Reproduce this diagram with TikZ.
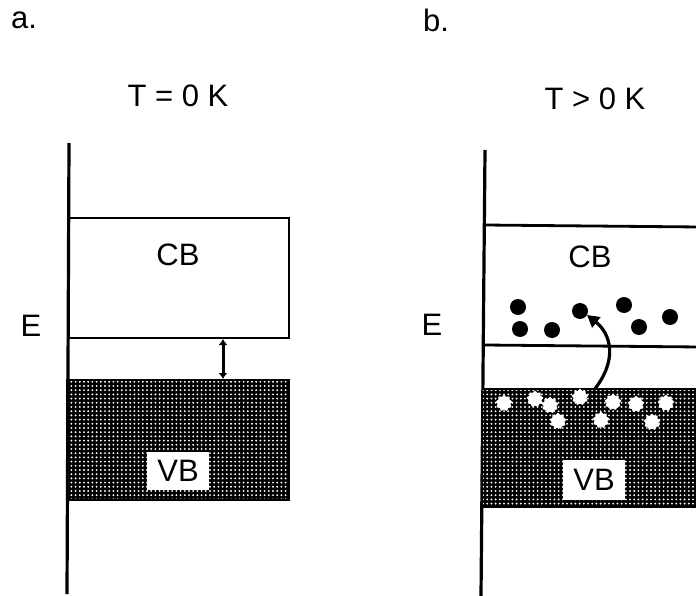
\documentclass[tikz,border=0pt]{standalone}
\usepackage{fontspec}
\setmainfont{Liberation Sans}
\usetikzlibrary{patterns.meta,shapes.geometric,arrows.meta}
\begin{document}
\begin{tikzpicture}[x=1pt,y=-1pt,
  lbl/.style={font=\fontsize{31}{36}\selectfont, inner sep=0pt},
  axis/.style={line width=3.2pt},
  bandline/.style={line width=2.8pt},
  vbfill/.style={fill=black, postaction={pattern={Dots[distance=4.2pt, radius=1.05pt]}, pattern color=white}},
  vblabel/.style={fill=white, inner sep=0pt, minimum width=62pt, minimum height=38pt, font=\fontsize{31}{36}\selectfont},
  electron/.style={circle, fill=black, inner sep=0pt, minimum size=16pt},
  hole/.style={star, star points=9, star point ratio=1.3, fill=white, inner sep=0pt, minimum size=17pt}
]
\path[use as bounding box] (0,0) rectangle (696,596);
\clip (0,0) rectangle (696,596);

% ---------- panel a ----------
\node[lbl] (la) at (24,20) {a.};
\node[lbl] (ta) at (178,96) {T = 0 K};
\node[lbl] (ea) at (31,326) {E};
\coordinate (axaTop) at (69,143);
\coordinate (axaBot) at (67,594);
\draw[axis] (axaTop) -- (axaBot);
\draw[bandline] (69,218) rectangle (289,338);
\node[lbl] (cba) at (178,255) {CB};
\fill[vbfill] (67,380) rectangle (289,500);
\draw[bandline] (67,380) rectangle (289,500);
\node[vblabel] (vba) at (178,471) {VB};
\coordinate (gapTop) at (223,339);
\coordinate (gapBot) at (223,379);
\draw[line width=3pt, {Latex[length=6pt,width=9pt]}-{Latex[length=6pt,width=9pt]}] (gapTop) -- (gapBot);

% ---------- panel b ----------
\node[lbl] (lb) at (436,20) {b.};
\node[lbl] (tb) at (595,99) {T > 0 K};
\node[lbl] (eb) at (432,325) {E};
\coordinate (axbTop) at (485,150);
\coordinate (axbBot) at (481,596);
\draw[axis] (axbTop) -- (axbBot);
\draw[bandline] (484,225) -- (700,227);
\draw[bandline] (484,345) -- (700,347);
\node[lbl] (cbb) at (590,257) {CB};
\fill[vbfill] (483,389) rectangle (700,507);
\draw[bandline] (483,389) -- (700,389);
\draw[bandline] (483,507) -- (700,507);
\node[vblabel, minimum height=40pt] (vbb) at (594,480) {VB};

% electrons
\node[electron] (e1) at (518,307) {};
\node[electron] (e2) at (520,329) {};
\node[electron] (e3) at (552,330) {};
\node[electron] (e4) at (580,311) {};
\node[electron] (e5) at (624,305) {};
\node[electron] (e6) at (639,327) {};
\node[electron] (e7) at (670,317) {};

% holes
\node[hole] (h1) at (504,403) {};
\node[hole] (h2) at (535,399) {};
\node[hole] (h3) at (550,405) {};
\node[hole] (h4) at (580,397) {};
\node[hole] (h5) at (613,402) {};
\node[hole] (h6) at (636,404) {};
\node[hole] (h7) at (666,403) {};
\node[hole] (h8) at (558,421) {};
\node[hole] (h9) at (601,420) {};
\node[hole] (h10) at (652,422) {};

% excitation arrow
\coordinate (arrS) at (594,390);
\coordinate (arrE) at (587,315);
\draw[line width=3.2pt, -{Triangle[length=12pt,width=13pt]}] (arrS) .. controls (618,360) and (611,334) .. (arrE);
\end{tikzpicture}
\end{document}
